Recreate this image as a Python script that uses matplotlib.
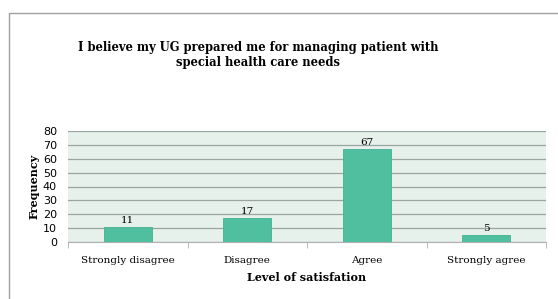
import matplotlib.pyplot as plt
from matplotlib.patches import Rectangle

categories = ["Strongly disagree", "Disagree", "Agree", "Strongly agree"]
frequency = [11, 17, 67, 5]
y_ticks = [0, 10, 20, 30, 40, 50, 60, 70, 80]

BAR = "#4fbf9f"
SERIF = ["DejaVu Serif"]


def main():
    fig = plt.figure(figsize=(5.58, 2.99), dpi=100)
    fig.patches.append(
        Rectangle((9 / 558, -0.1), 1.2, 1 - 13 / 299 + 0.1, transform=fig.transFigure,
                  fill=False, edgecolor="#a0a0a0", linewidth=1.0)
    )

    ax = fig.add_axes([68 / 558, 1 - 242 / 299, (546 - 68) / 558, (242 - 131) / 299])
    ax.set_facecolor("#e6f1ec")

    x = list(range(len(categories)))
    bars = ax.bar(x, frequency, width=0.4, color=BAR, edgecolor="#45b091", linewidth=0.6, zorder=3)
    for b, v in zip(bars, frequency):
        ax.text(b.get_x() + b.get_width() / 2, v + 1.5, str(v), ha="center", va="bottom",
                fontsize=7.5, family=SERIF, zorder=4)

    ax.set_xlim(-0.5, len(categories) - 0.5)
    ax.set_ylim(0, 80)
    ax.set_yticks(y_ticks)
    ax.yaxis.grid(True, color="#9aa5a1", linewidth=0.9, zorder=0)
    ax.tick_params(axis="y", length=0, labelsize=8, pad=8)

    ax.set_xticks(x)
    ax.set_xticklabels(categories, family=SERIF, fontsize=7.5)
    ax.tick_params(axis="x", length=0, pad=10)
    ax.set_xticks([i - 0.5 for i in range(len(categories) + 1)], minor=True)
    ax.tick_params(axis="x", which="minor", length=4, color="#b0b0b0")

    for side in ["top", "right", "left"]:
        ax.spines[side].set_visible(False)
    ax.spines["bottom"].set_color("#b0b0b0")

    ax.set_ylabel("Frequency", family=SERIF, fontweight="bold", fontsize=8, labelpad=2)
    ax.set_xlabel("Level of satisfation", family=SERIF, fontweight="bold", fontsize=8, labelpad=5)

    fig.text(258 / 558, 1 - 55 / 299,
             "I believe my UG prepared me for managing patient with\nspecial health care needs",
             ha="center", va="center", family=SERIF, fontweight="bold", fontsize=8.3,
             linespacing=1.25)

    fig.savefig("out.png", dpi=100)
    plt.close(fig)


if __name__ == "__main__":
    main()
